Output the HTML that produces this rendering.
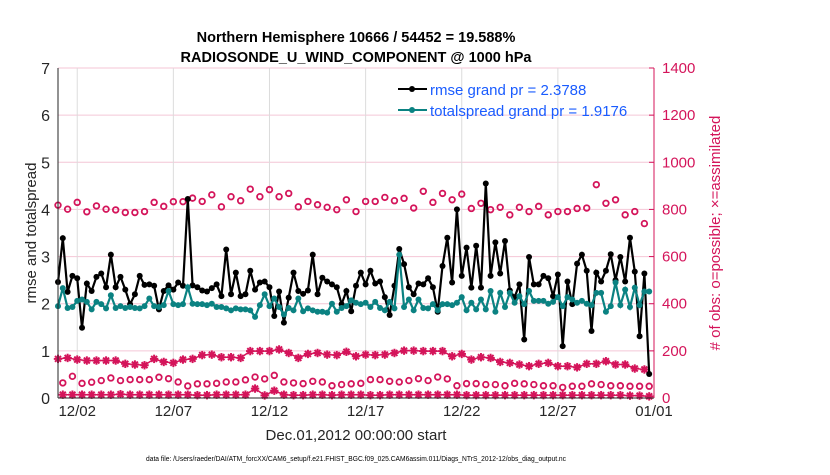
<!DOCTYPE html>
<html><head><meta charset="utf-8">
<style>
body{margin:0;background:#fff;}
svg text{font-family:"Liberation Sans",Arial,sans-serif;}
</style></head>
<body>
<svg id="chart" width="830" height="470" viewBox="0 0 830 470" xmlns="http://www.w3.org/2000/svg">
<rect width="830" height="470" fill="#fff"/>
<g id="grid"></g>
<g id="series"></g>
<g id="axes"></g>
<text x="356" y="42" font-size="14.5" font-weight="bold" text-anchor="middle">Northern Hemisphere 10666 / 54452 = 19.588%</text>
<text x="356" y="62" font-size="14.5" font-weight="bold" text-anchor="middle">RADIOSONDE_U_WIND_COMPONENT @ 1000 hPa</text>
<text x="356" y="440" font-size="15" fill="#262626" text-anchor="middle">Dec.01,2012 00:00:00 start</text>
<text x="356" y="461" font-size="7" fill="#000" text-anchor="middle" textLength="420" lengthAdjust="spacingAndGlyphs">data file: /Users/raeder/DAI/ATM_forcXX/CAM6_setup/f.e21.FHIST_BGC.f09_025.CAM6assim.011/Diags_NTrS_2012-12/obs_diag_output.nc</text>
<text transform="translate(36,233) rotate(-90)" font-size="15" fill="#262626" text-anchor="middle">rmse and totalspread</text>
<text transform="translate(720,233) rotate(-90)" font-size="15" fill="#d4145a" text-anchor="middle"># of obs: o=possible; ×=assimilated</text>
<g>
  <g>
    <line x1="398" y1="89" x2="427" y2="89" stroke="#000" stroke-width="2"/>
    <circle cx="412" cy="89" r="3" fill="#000"/>
    <text x="430" y="95" font-size="15" fill="#1a5cff">rmse grand pr = 2.3788</text>
  </g>
  <g>
    <line x1="398" y1="110" x2="427" y2="110" stroke="#0b8282" stroke-width="2"/>
    <circle cx="412" cy="110" r="3" fill="#0b8282"/>
    <text x="430" y="116" font-size="15" fill="#1a5cff">totalspread grand pr = 1.9176</text>
  </g>
</g>
</svg>
<script>
const rmse=[2.46,3.39,2.25,2.59,2.54,1.49,2.43,2.27,2.57,2.64,2.35,3.04,2.35,2.57,2.3,1.99,2.2,2.59,2.4,2.41,2.38,1.88,2.27,2.39,2.3,2.45,2.38,4.22,2.39,2.35,2.28,2.26,2.33,2.41,2.16,3.15,2.2,2.66,2.16,2.2,2.7,2.3,2.45,2.47,2.35,1.74,2.26,1.6,2.13,2.66,2.27,2.21,2.28,3.04,2.2,2.55,2.47,2.41,2.35,1.99,2.27,1.84,2.38,2.66,2.41,2.7,2.43,2.47,2.14,1.76,2.38,3.16,2.84,2.35,2.2,2.43,2.41,2.54,2.35,1.83,2.8,3.4,2.45,4.0,2.59,3.19,2.34,3.23,2.34,4.55,2.59,3.3,2.64,3.33,2.28,2.14,2.41,1.24,2.99,2.41,2.41,2.59,2.54,2.16,2.62,1.1,2.47,1.99,2.85,3.04,2.7,1.42,2.66,2.47,2.7,3.05,2.5,2.99,2.47,3.4,2.68,1.31,2.64,0.51];
const spread=[1.95,2.33,1.91,1.93,2.06,2.09,2.04,1.88,2.04,1.99,1.9,2.18,1.91,1.95,1.91,1.93,1.91,1.9,1.95,2.11,1.95,1.93,1.97,2.27,1.99,1.97,1.99,2.35,2.0,1.99,1.99,1.97,2.0,1.93,1.93,1.9,1.86,1.9,1.88,1.88,1.86,1.72,1.97,2.2,1.95,2.11,1.93,1.77,1.91,1.86,2.11,1.84,1.9,1.86,1.83,1.83,1.81,2.0,1.83,1.91,1.95,2.07,2.02,1.99,2.02,1.93,2.04,1.91,1.86,2.04,1.9,3.04,1.93,2.09,1.86,2.09,1.91,1.9,1.99,1.86,1.99,1.99,1.97,2.02,2.14,1.86,2.02,1.88,2.09,1.88,2.27,1.83,2.23,1.93,2.23,2.02,2.16,1.99,2.27,2.06,2.06,2.06,2.0,2.04,2.14,1.95,2.14,2.09,2.02,2.06,2.0,1.97,2.23,2.23,1.83,1.95,2.45,1.97,2.3,1.93,2.34,1.97,2.26,2.26];
// obs counts at 00Z/12Z (even index) and 06Z/18Z (odd index)
const possibleMain=[818,801,830,790,815,801,798,787,787,791,830,813,833,833,848,834,862,811,854,837,886,854,884,854,868,811,834,820,809,799,841,791,834,834,851,837,847,806,877,830,868,841,865,804,826,799,809,777,809,791,813,777,791,791,804,806,905,826,841,777,791,740];
const possibleOff=[64,92,62,67,74,85,74,78,78,78,88,82,68,51,60,60,62,68,68,77,89,81,96,68,64,61,71,68,52,57,60,62,78,78,71,68,74,82,74,89,81,52,61,61,57,57,52,62,60,57,52,52,45,50,50,60,57,52,52,50,50,50];
const assimMain=[166,170,163,159,159,159,159,145,142,139,166,153,149,163,166,182,184,173,173,170,199,199,199,206,191,170,187,191,184,182,196,177,184,182,184,191,201,201,199,199,199,177,187,163,173,170,153,149,142,135,145,149,135,135,130,145,145,156,142,142,125,121];
const assimOff=[14,14,14,14,14,14,16,14,14,14,14,14,14,14,12,12,14,14,14,14,40,11,31,14,12,12,14,14,12,14,14,14,12,12,14,14,14,14,14,14,14,14,12,12,12,12,12,12,12,12,12,12,12,12,12,12,12,12,12,10,10,7];
const yTicks=[0,1,2,3,4,5,6,7];
const rTicks=[0,200,400,600,800,1000,1200,1400];
const xTickLabels=["12/02","12/07","12/12","12/17","12/22","12/27","01/01"];
const xTickDays=[1,6,11,16,21,26,31];

const NS="http://www.w3.org/2000/svg";
const X0=58,X1=654,Y0=398,Y1=68,DAYS=31;
const xDay=d=>X0+(d/DAYS)*(X1-X0);
const xIdx=i=>xDay(i*0.25);
const yL=v=>Y0-(v/7)*(Y0-Y1);
const yR=v=>Y0-(v/1400)*(Y0-Y1);
function mk(tag,attrs,parent){const e=document.createElementNS(NS,tag);for(const k in attrs)e.setAttribute(k,attrs[k]);parent.appendChild(e);return e;}
const grid=document.getElementById('grid'),ser=document.getElementById('series'),ax=document.getElementById('axes');
const PINK="#d4145a",TEAL="#0b8282";

yTicks.forEach(v=>{
  const l=mk('line',{x1:X0,x2:X1,y1:yL(v),y2:yL(v),stroke:'#f4c6d6','stroke-width':1},grid);
  
  
  const t=mk('text',{x:X0-8,y:yL(v)+6,'font-size':16,fill:'#262626','text-anchor':'end'},ax);
  t.textContent=v;
  
  
});
xTickDays.forEach((d,k)=>{
  const l=mk('line',{x1:xDay(d),x2:xDay(d),y1:Y1,y2:Y0,stroke:'#dcdcdc','stroke-width':1},grid);
  
  
  const t=mk('text',{x:xDay(d),y:416,'font-size':15,fill:'#262626','text-anchor':'middle'},ax);
  t.textContent=xTickLabels[k];
  
  
});
rTicks.forEach(v=>{
  mk('line',{x1:X1-5,x2:X1,y1:yR(v),y2:yR(v),stroke:PINK,'stroke-width':1},ax);
  const t=mk('text',{x:X1+8,y:yR(v)+5,'font-size':15,fill:PINK},ax);
  t.textContent=v;
  
  
});
const la=mk('line',{x1:X0,x2:X0,y1:Y1,y2:Y0,stroke:'#262626','stroke-width':1},ax);


const ba=mk('line',{x1:X0,x2:X1,y1:Y0,y2:Y0,stroke:'#262626','stroke-width':1},ax);


const ra=mk('line',{x1:X1,x2:X1,y1:Y1,y2:Y0,stroke:PINK,'stroke-width':1},ax);



function star(cx,cy,parent){
  const g=mk('g',{stroke:PINK,'stroke-width':2},parent);
  
  
  const r=4.2;
  for(let a=0;a<4;a++){const t=a*Math.PI/4;mk('line',{x1:cx-r*Math.cos(t),y1:cy-r*Math.sin(t),x2:cx+r*Math.cos(t),y2:cy+r*Math.sin(t)},g);}
}
const gPoss=mk('g',{},ser);
const gAss=mk('g',{},ser);
function assimLine(arr,off){
  const d=arr.map((v,k)=>(k?'L':'M')+xIdx(2*k+off).toFixed(1)+','+yR(v).toFixed(1)).join('');
  mk('path',{d:d,fill:'none',stroke:PINK,'stroke-width':1.5},gAss);
  arr.forEach((v,k)=>star(xIdx(2*k+off),yR(v),gAss));
}
assimLine(assimMain,0);
assimLine(assimOff,1);
function possPts(arr,off){
  arr.forEach((v,k)=>{
    const c=mk('circle',{cx:xIdx(2*k+off),cy:yR(v),r:2.8,fill:'none',stroke:PINK,'stroke-width':1.8},gPoss);
    
    
  });
}
possPts(possibleMain,0);
possPts(possibleOff,1);
function line(arr,color,name){
  const g=mk('g',{},ser);
  
  
  const d=arr.map((v,i)=>(i?'L':'M')+xIdx(i).toFixed(1)+','+yL(v).toFixed(1)).join('');
  mk('path',{d:d,fill:'none',stroke:color,'stroke-width':2.2},g);
  arr.forEach((v,i)=>{
    const c=mk('circle',{cx:xIdx(i),cy:yL(v),r:3,fill:color},g);
    
    
  });
}
line(rmse,'#000','rmse-series');
line(spread,TEAL,'totalspread-series');
</script>
</body></html>
